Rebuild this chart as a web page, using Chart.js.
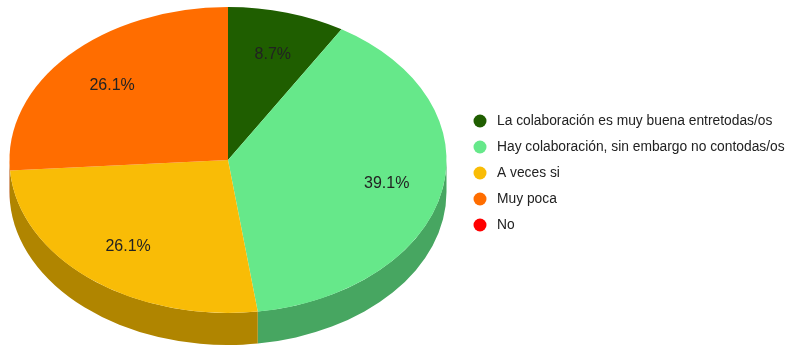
<!DOCTYPE html>
<html>
<head>
<meta charset="utf-8">
<script src="https://cdn.jsdelivr.net/npm/chart.js@4/dist/chart.umd.min.js"></script>
<style>
  html, body { margin: 0; padding: 0; background: #fff; }
  #wrap { width: 791px; height: 345px; }
</style>
</head>
<body>
<div id="wrap"><canvas id="pie"></canvas></div>
<script>
const answers = [
  'La colaboración es muy buena entretodas/os',
  'Hay colaboración, sin embargo no contodas/os',
  'A veces si',
  'Muy poca',
  'No'
];
const counts = [2, 9, 6, 6, 0];
const faceColors = ['#1f5e00', '#66e88a', '#f9bc06', '#ff6d00', '#ff0000'];
const sideColors = ['#154200', '#47a661', '#b08500', '#b34c00', '#b30000'];

const stretch = 218.5 / 153;   // ellipse width / height
const depth = 32;              // thickness of the pie wall

// tilt the pie into an ellipse and paint its visible wall underneath
const tilt = {
  id: 'tilt',
  beforeDatasetsDraw(chart) {
    const ctx = chart.ctx;
    const arcs = chart.getDatasetMeta(0).data;
    const cx = arcs[0].x, cy = arcs[0].y;
    ctx.save();
    ctx.translate(cx, cy);
    ctx.scale(stretch, 1);
    ctx.translate(-cx, -cy);
    arcs.forEach((arc, i) => {
      const r = arc.outerRadius;
      for (const shift of [0, 2 * Math.PI]) {
        const a = Math.max(arc.startAngle, shift);
        const b = Math.min(arc.endAngle, shift + Math.PI);
        if (b <= a) continue;
        ctx.beginPath();
        ctx.arc(cx, cy, r, a, b);
        ctx.arc(cx, cy + depth, r, b, a, true);
        ctx.closePath();
        ctx.fillStyle = sideColors[i];
        ctx.fill();
      }
    });
  },
  afterDatasetsDraw(chart) {
    const ctx = chart.ctx;
    ctx.restore();
    const arcs = chart.getDatasetMeta(0).data;
    const total = counts.reduce((s, v) => s + v, 0);
    ctx.save();
    ctx.font = '16px Arial, "Liberation Sans", sans-serif';
    ctx.fillStyle = '#222';
    ctx.textAlign = 'center';
    ctx.textBaseline = 'middle';
    arcs.forEach((arc, i) => {
      if (!counts[i]) return;
      const mid = (arc.startAngle + arc.endAngle) / 2;
      const r = arc.outerRadius;
      const x = arc.x + 1.5 + stretch * r * 0.735 * Math.cos(mid);
      const y = arc.y + 1 + r * 0.725 * Math.sin(mid);
      ctx.fillText((counts[i] / total * 100).toFixed(1) + '%', x, y);
    });
    ctx.restore();
  }
};

// legend on the right, one dot per answer
const sideLegend = {
  id: 'sideLegend',
  afterDraw(chart) {
    const ctx = chart.ctx;
    ctx.save();
    ctx.font = '13.8px Arial, "Liberation Sans", sans-serif';
    ctx.textBaseline = 'middle';
    answers.forEach((txt, i) => {
      const y = 121 + i * 26;
      ctx.beginPath();
      ctx.arc(480, y, 6.5, 0, 2 * Math.PI);
      ctx.fillStyle = faceColors[i];
      ctx.fill();
      ctx.fillStyle = '#222';
      ctx.fillText(txt, 497, y);
    });
    ctx.restore();
  }
};

new Chart('pie', {
  type: 'pie',
  data: {
    labels: answers,
    datasets: [{
      data: counts,
      backgroundColor: faceColors,
      borderWidth: 0,
      clip: false
    }]
  },
  options: {
    responsive: true,
    maintainAspectRatio: false,
    animation: false,
    events: [],
    layout: { padding: { top: 7, bottom: 32, left: 75, right: 410 } },
    plugins: {
      legend: { display: false },
      tooltip: { enabled: false }
    }
  },
  plugins: [tilt, sideLegend]
});
</script>
</body>
</html>
